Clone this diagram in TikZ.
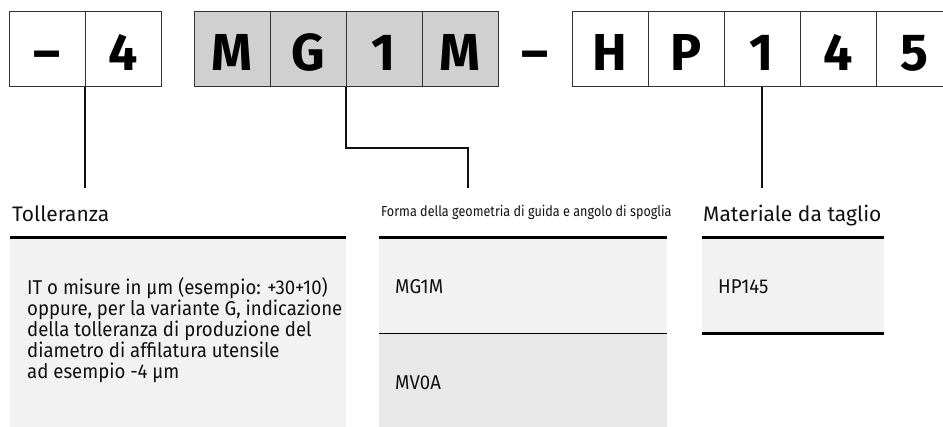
\documentclass[tikz,border=0pt]{standalone}
\usepackage{fontspec}
\setmainfont{Fira Sans}
\newfontfamily\headfont{Fira Sans}
\newfontfamily\bodyfont[FakeStretch=0.93]{Fira Sans}
\newfontfamily\narrowfont[FakeStretch=0.87]{Fira Sans}
\usepackage{xcolor}
\usepackage{tikz}
\usetikzlibrary{positioning,calc}
\definecolor{cellgray}{HTML}{D0D0D0}
\definecolor{panel}{HTML}{F2F2F2}
\definecolor{panelDk}{HTML}{E8E8E8}
\definecolor{frame}{HTML}{333333}
\definecolor{ink}{HTML}{111111}

\begin{document}
\begin{tikzpicture}[
  x=1pt, y=-1pt,
  node distance=0pt,
  cell/.style={draw=frame, line width=1pt, fill=white, inner sep=0pt, outer sep=0pt,
               minimum width=76pt, minimum height=75pt, text=black,
               font=\fontsize{52}{52}\selectfont\bfseries, text height=43pt, text depth=0pt},
  shaded/.style={cell, fill=cellgray},
  gapsign/.style={inner sep=0pt, outer sep=0pt, minimum width=74pt, minimum height=75pt,
               font=\fontsize{52}{52}\selectfont\bfseries, text height=43pt, text depth=0pt},
  lead/.style={draw=ink, line width=1.3pt},
  rule/.style={draw=black, line width=3pt},
  thinrule/.style={draw=black, line width=1pt},
  panelbox/.style={inner sep=0pt, outer sep=0pt, anchor=north west},
  heading/.style={anchor=base west, inner sep=0pt, text=ink, font=\headfont\fontsize{21}{22}\selectfont},
  small/.style={anchor=base west, inner sep=0pt, text=ink, font=\narrowfont\fontsize{14.5}{16}\selectfont},
  body/.style={anchor=base west, inner sep=0pt, text=ink, align=left,
               font=\bodyfont\fontsize{20}{21}\selectfont}
]
  \useasboundingbox (0,0) rectangle (943,427);

  % Code boxes: - 4 | M G 1 M | - | H P 1 4 5
  \node[cell] (t1) at (47,49.5) {–};
  \node[cell, right=of t1] (t2) {4};
  \node[shaded, right=33pt of t2] (m1) {M};
  \node[shaded, right=of m1] (m2) {G};
  \node[shaded, right=of m2] (m3) {1};
  \node[shaded, right=of m3] (m4) {M};
  \node[gapsign, right=of m4] (dash) {–};
  \node[cell, right=of dash] (h1) {H};
  \node[cell, right=of h1] (h2) {P};
  \node[cell, right=of h2] (h3) {1};
  \node[cell, right=of h3] (h4) {4};
  \node[cell, right=of h4] (h5) {5};

  % Panels
  \node[panelbox, fill=panel, minimum width=336pt, minimum height=189pt] (tolbox) at (10,238) {};
  \node[panelbox, fill=panel, minimum width=288pt, minimum height=96pt] (formup) at (379,238) {};
  \node[panelbox, fill=panelDk, minimum width=288pt, minimum height=93pt] (formdn) at (formup.south west) {};
  \node[panelbox, fill=panel, minimum width=182pt, minimum height=96pt] (matbox) at (702,238) {};
  \draw[rule] (tolbox.north west) -- (tolbox.north east);
  \draw[rule] (formup.north west) -- (formup.north east);
  \draw[thinrule] (formdn.north west) -- (formdn.north east);
  \draw[rule] (matbox.north west) -- (matbox.north east);
  \draw[rule] (matbox.south west) -- (matbox.south east);

  % Headings and texts (multi-line text sits on its last baseline)
  \node[heading] (tolhead) at (12,222) {Tolleranza};
  \node[small] (formhead) at (381,217) {Forma della geometria di guida e angolo di spoglia};
  \node[heading] (mathead) at (703,222) {Materiale da taglio};
  \node[body] (toltext) at (27,379) {IT o misure in µm (esempio: +30+10)\\
    oppure, per la variante G, indicazione\\
    della tolleranza di produzione del\\
    diametro di affilatura utensile\\
    ad esempio -4 µm};
  \node[body] (formA) at (395,294) {MG1M};
  \node[body] (formB) at (395,390) {MV0A};
  \node[body] (matA) at (718,294) {HP145};

  % Leader lines
  \coordinate (tolpin) at (85,188);
  \coordinate (formpin) at (468,188);
  \coordinate (matpin) at (762,188);
  \draw[lead] (t1.south east) -- (tolpin);
  \draw[lead] (m2.south east) -- ++(0,61) -| (formpin);
  \draw[lead] (h3.south) -- (matpin);
\end{tikzpicture}
\end{document}
